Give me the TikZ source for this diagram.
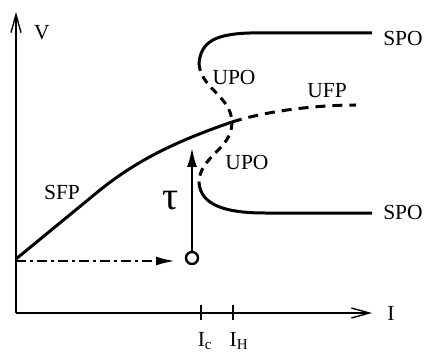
\documentclass[tikz,border=0pt]{standalone}
\usepackage{fontspec}
\setmainfont{Liberation Serif}
\usetikzlibrary{arrows.meta}
\begin{document}
\begin{tikzpicture}[x=1pt,y=-1pt,
  axis/.style={line width=1.5pt,-{Straight Barb[length=18pt,width=10pt,line width=1.4pt]}},
  branch/.style={line width=3pt},
  unstable/.style={line width=3pt,dash pattern=on 10pt off 7pt},
  lbl/.style={font=\fontsize{21.5}{25}\selectfont,inner sep=0pt},
  tickmark/.style={line width=1.8pt}]
\useasboundingbox (0,0) rectangle (427,352);
% axes
\coordinate (O) at (16,313);
\coordinate (ytip) at (16,12);
\coordinate (xtip) at (372,313);
\draw[axis] (O) -- (ytip);
\draw[axis] (O) -- (xtip);
\node[lbl] (V) at (42,33) {V};
\node[lbl] (I) at (391,313) {I};
% ticks
\coordinate (tc1) at (201,305); \coordinate (tc2) at (201,320);
\coordinate (th1) at (233,305); \coordinate (th2) at (233,320);
\draw[tickmark] (tc1) -- (tc2);
\draw[tickmark] (th1) -- (th2);
\node[lbl] (Ic) at (205,341) {I$_{\mathrm{c}}$};
\node[lbl] (IH) at (239,341) {I$_{\mathrm{H}}$};
% fixed point branches
\coordinate (s0) at (16,259);
\coordinate (s1) at (100,190);
\coordinate (H) at (232,122);
\coordinate (u1) at (356,105);
\draw[branch] (s0) -- (s1) .. controls (140,158) and (180,140) .. (H);
\draw[unstable] (H) .. controls (270,110) and (320,105) .. (u1);
% periodic orbits upper
\coordinate (a0) at (199,63);
\coordinate (a1) at (250,33);
\coordinate (a2) at (372,33);
\draw[branch] (a0) .. controls (201,42) and (215,34) .. (a1) -- (a2);
\draw[line width=3pt,dash pattern=on 8pt off 6pt] (a0) .. controls (200,88) and (231,96) .. (H);
% periodic orbits lower
\coordinate (b0) at (199,183);
\coordinate (b1) at (265,213);
\coordinate (b2) at (372,213);
\draw[line width=3pt,dash pattern=on 8pt off 6pt] (H) .. controls (232,150) and (199,156) .. (b0);
\draw[branch] (b0) .. controls (201,205) and (225,213) .. (b1) -- (b2);
% labels
\node[lbl] (SFP) at (62,192) {SFP};
\node[lbl] (UFP) at (327,91) {UFP};
\node[lbl] (UPOa) at (234,77) {UPO};
\node[lbl] (UPOb) at (247,162) {UPO};
\node[lbl] (SPOa) at (403,38) {SPO};
\node[lbl] (SPOb) at (403,212) {SPO};
% tau arrow and start point
\node[draw,circle,line width=2.4pt,minimum size=12pt,inner sep=0pt] (c) at (192,258) {};
\coordinate (ttip) at (192,147);
\draw[line width=2.8pt,-{Latex[length=20pt,width=10pt]}] (c.north) -- (ttip);
\node[inner sep=0pt,font=\fontsize{40}{42}\selectfont] (tau) at (171,201) {τ};
\coordinate (d0) at (16,261);
\coordinate (d1) at (176,261);
\draw[line width=2.8pt,dash pattern=on 10pt off 4pt on 3pt off 4pt,-{Latex[length=20pt,width=9pt]}] (d0) -- (d1);
\end{tikzpicture}
\end{document}
